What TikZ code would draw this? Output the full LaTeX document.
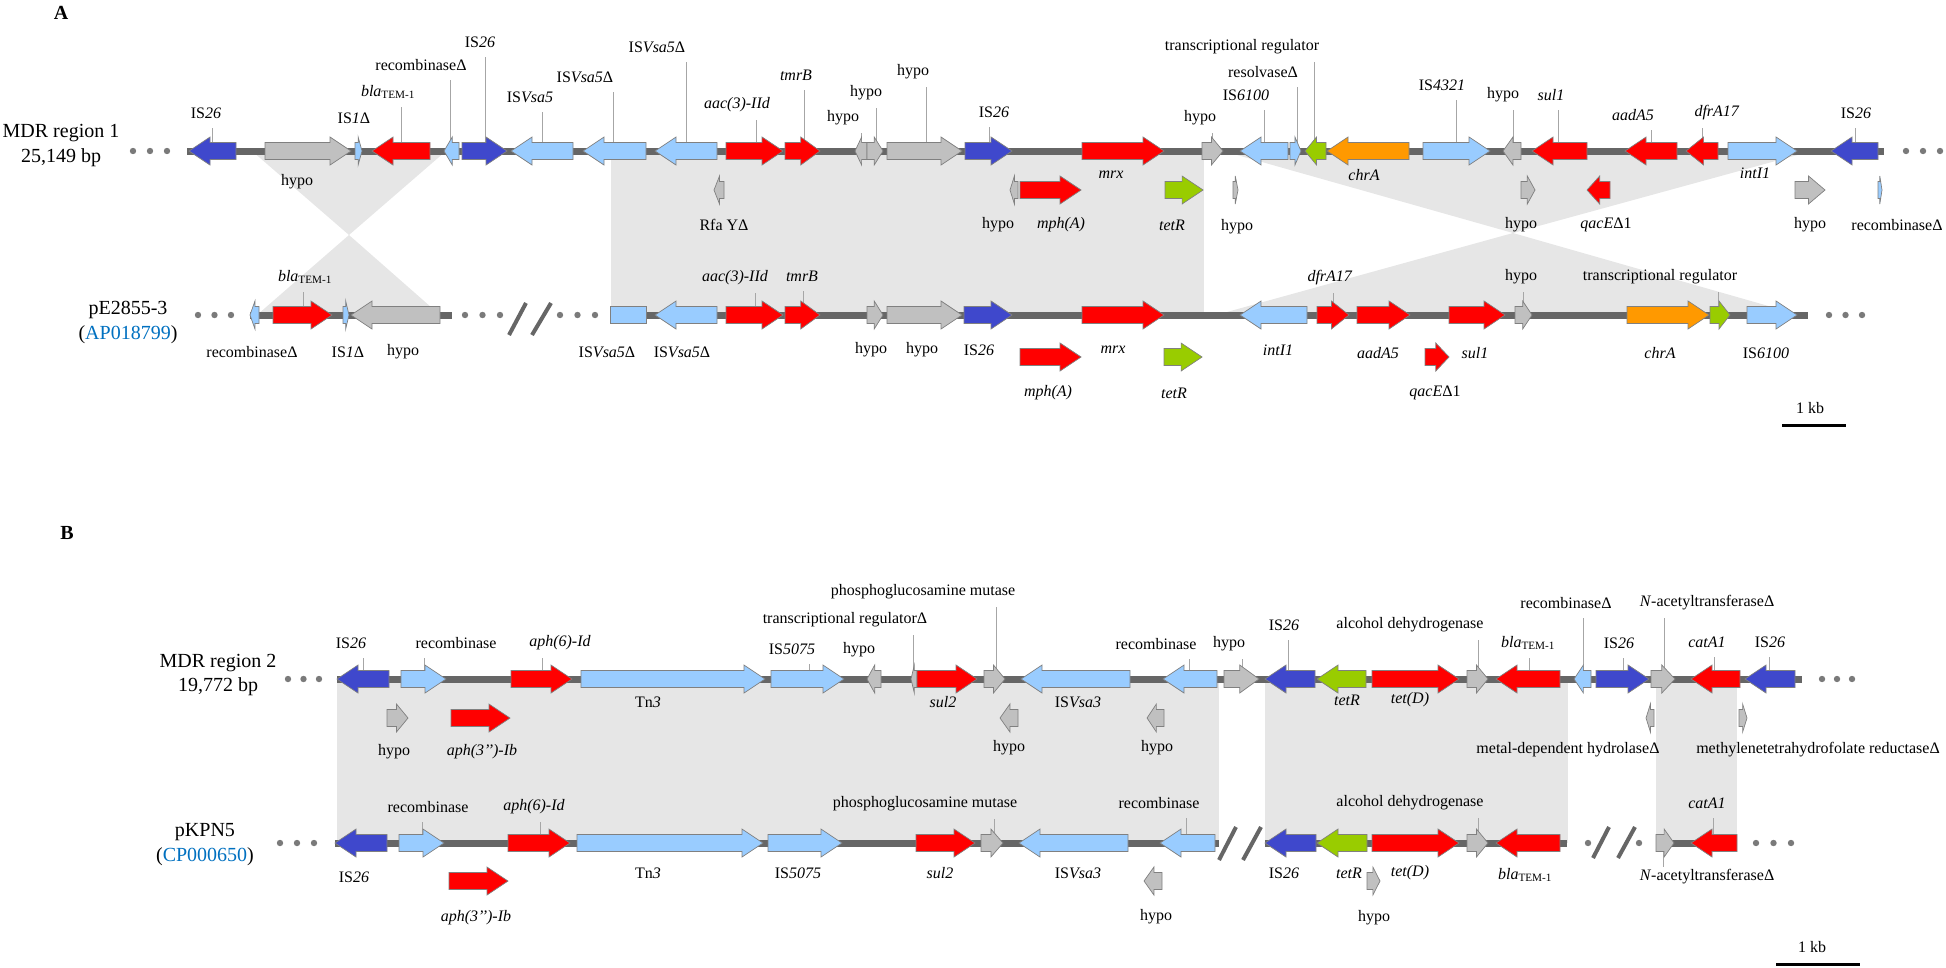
\documentclass[tikz,border=0pt]{standalone}
\usepackage{fontspec}
\setmainfont{Liberation Serif}
\definecolor{dblue}{HTML}{3F48CC}
\definecolor{lblue}{HTML}{99CCFF}
\definecolor{gred}{HTML}{FF0000}
\definecolor{ggray}{HTML}{C0C0C0}
\definecolor{ggreen}{HTML}{99CC00}
\definecolor{gorange}{HTML}{FF9900}
\definecolor{bbcol}{HTML}{666666}
\definecolor{shadec}{HTML}{E6E6E6}
\definecolor{acc}{HTML}{0070C0}
\definecolor{dotc}{HTML}{7A7A7A}
\tikzset{
 gene/.style={draw=black!50, line width=0.7pt, line join=miter},
 lab/.style={font=\fontsize{16}{18}\selectfont, inner sep=0pt},
 big/.style={font=\fontsize{20}{23}\selectfont, inner sep=0pt},
 ttl/.style={font=\fontsize{20}{23}\selectfont\bfseries, inner sep=0pt},
 tick/.style={draw=black!35, line width=0.9pt},
 slash/.style={draw=bbcol, line width=4pt},
 scalebar/.style={draw=black, line width=3pt},
}
\newcounter{ln}
\newcommand\geneR[4]{%
 \pgfmathsetmacro\ghl{min(21,0.55*((#2)-(#1)))}%
 \pgfmathsetmacro\ghx{(#2)-\ghl}%
 \filldraw[gene,fill=#4] (#1,#3-8.5) -- (\ghx,#3-8.5) -- (\ghx,#3-14) -- (#2,#3) -- (\ghx,#3+14) -- (\ghx,#3+8.5) -- (#1,#3+8.5) -- cycle;}
\newcommand\geneL[4]{%
 \pgfmathsetmacro\ghl{min(21,0.55*((#2)-(#1)))}%
 \pgfmathsetmacro\ghx{(#1)+\ghl}%
 \filldraw[gene,fill=#4] (#2,#3-8.5) -- (\ghx,#3-8.5) -- (\ghx,#3-14) -- (#1,#3) -- (\ghx,#3+14) -- (\ghx,#3+8.5) -- (#2,#3+8.5) -- cycle;}
\newcommand\geneB[4]{\filldraw[gene,fill=#4] (#1,#3-8.5) rectangle (#2,#3+8.5);}
\newcommand\bbone[3]{\fill[bbcol] (#1,#3-3.5) rectangle (#2,#3+3.5);}
\newcommand\lbl[3]{\stepcounter{ln}\node[lab] (n\arabic{ln}) at (#1,#2) {#3};}
\newcommand\lblt[5]{\lbl{#1}{#2}{#3}\draw[tick] (#4,#2+15) -- (#4,#5);}
\newcommand\gdots[3]{\fill[dotc] (#1,#3) circle (3.2); \fill[dotc] (#2,#3) circle (3.2); \pgfmathsetmacro\gmid{((#1)+(#2))/2}\fill[dotc] (\gmid,#3) circle (3.2);}
\newcommand\gbla{\textit{bla}\textsubscript{TEM-1}}
\begin{document}
\begin{tikzpicture}[x=1pt,y=-1pt]
\useasboundingbox (0,0) rectangle (1946,967);
% ---------- shading ----------
\fill[shadec] (611,151) rectangle (1204,315);
\fill[shadec] (252,151) -- (446,151) -- (349,235) -- cycle;
\fill[shadec] (349,235) -- (257,315) -- (440,315) -- cycle;
\fill[shadec] (1223,151) -- (1812,151) -- (1513,233) -- cycle;
\fill[shadec] (1513,233) -- (1216,315) -- (1800,315) -- cycle;
\fill[shadec] (337,679) rectangle (1219,843);
\fill[shadec] (1265,679) rectangle (1568,843);
\fill[shadec] (1656,679) rectangle (1737,843);
% ---------- titles ----------
\node[ttl] (tA) at (61,13) {A};
\node[ttl] (tB) at (67,533) {B};
\node[big] (r1a) at (61,133) {MDR region 1};
\node[big] (r1b) at (61,158) {25,149 bp};
\node[big] (r2a) at (128,310) {pE2855-3};
\node[big] (r2b) at (128,335) {(\textcolor{acc}{AP018799})};
\node[big] (r3a) at (218,663) {MDR region 2};
\node[big] (r3b) at (218,687) {19,772 bp};
\node[big] (r4a) at (205,832) {pKPN5};
\node[big] (r4b) at (205,857) {(\textcolor{acc}{CP000650})};
% ---------- A top labels ----------
\lblt{206}{113}{IS\textit{26}}{212}{151}
\lbl{354}{118}{IS\textit{1}Δ}
\lblt{388}{92}{\gbla}{401}{151}
\lblt{421}{65}{recombinaseΔ}{450}{151}
\lblt{480}{42}{IS\textit{26}}{485}{151}
\lblt{530}{97}{IS\textit{Vsa5}}{542}{151}
\lblt{585}{77}{IS\textit{Vsa5}Δ}{613}{151}
\lblt{657}{47}{IS\textit{Vsa5}Δ}{686}{151}
\lblt{737}{105}{\textit{aac(3)-IId}}{756}{151}
\lblt{796}{75}{\textit{tmrB}}{804}{151}
\lblt{843}{118}{hypo}{861}{151}
\lblt{866}{93}{hypo}{876}{151}
\lblt{913}{72}{hypo}{926}{151}
\lblt{994}{112}{IS\textit{26}}{989}{151}
\lblt{1200}{118}{hypo}{1212}{151}
\lblt{1246}{95}{IS\textit{6100}}{1264}{151}
\lblt{1263}{72}{resolvaseΔ}{1297}{151}
\lblt{1242}{47}{transcriptional regulator}{1314}{151}
\lblt{1442}{85}{IS\textit{4321}}{1456}{151}
\lblt{1503}{95}{hypo}{1513}{151}
\lblt{1551}{95}{\textit{sul1}}{1558}{151}
\lblt{1633}{115}{\textit{aadA5}}{1651}{151}
\lblt{1717}{113}{\textit{dfrA17}}{1702}{151}
\lblt{1856}{113}{IS\textit{26}}{1855}{151}
\lbl{297}{182}{hypo}
\lbl{1111}{175}{\textit{mrx}}
\lbl{1364}{175}{\textit{chrA}}
\lbl{1755}{173}{\textit{intI1}}
\lbl{724}{225}{Rfa YΔ}
\lbl{998}{225}{hypo}
\lbl{1061}{225}{\textit{mph(A)}}
\lbl{1172}{225}{\textit{tetR}}
\lbl{1237}{227}{hypo}
\lbl{1521}{225}{hypo}
\lbl{1606}{225}{\textit{qacE}Δ1}
\lbl{1810}{225}{hypo}
\lbl{1897}{225}{recombinaseΔ}
% ---------- A bottom labels ----------
\lblt{305}{277}{\gbla}{303}{315}
\lbl{252}{352}{recombinaseΔ}
\lbl{348}{352}{IS\textit{1}Δ}
\lbl{403}{352}{hypo}
\lbl{607}{352}{IS\textit{Vsa5}Δ}
\lbl{682}{352}{IS\textit{Vsa5}Δ}
\lblt{735}{278}{\textit{aac(3)-IId}}{755}{315}
\lblt{802}{276}{\textit{tmrB}}{803}{315}
\lbl{871}{350}{hypo}
\lbl{922}{350}{hypo}
\lbl{979}{350}{IS\textit{26}}
\lbl{1113}{350}{\textit{mrx}}
\lbl{1278}{350}{\textit{intI1}}
\lbl{1048}{393}{\textit{mph(A)}}
\lbl{1174}{393}{\textit{tetR}}
\lblt{1330}{278}{\textit{dfrA17}}{1333}{315}
\lbl{1378}{353}{\textit{aadA5}}
\lbl{1475}{353}{\textit{sul1}}
\lblt{1521}{277}{hypo}{1523}{315}
\lbl{1660}{353}{\textit{chrA}}
\lblt{1660}{277}{transcriptional regulator}{1718}{315}
\lbl{1766}{353}{IS\textit{6100}}
\lbl{1435}{393}{\textit{qacE}Δ1}
\lbl{1810}{408}{1 kb}
\draw[scalebar] (1782,425) -- (1846,425);
% ---------- B top labels ----------
\lblt{351}{643}{IS\textit{26}}{363}{679}
\lblt{456}{643}{recombinase}{424}{679}
\lblt{560}{643}{\textit{aph(6)-Id}}{542}{679}
\lbl{648}{702}{Tn\textit{3}}
\lblt{792}{649}{IS\textit{5075}}{809}{679}
\lbl{859}{650}{hypo}
\lblt{845}{620}{transcriptional regulatorΔ}{913}{679}
\lbl{943}{702}{\textit{sul2}}
\lblt{923}{592}{phosphoglucosamine mutase}{996}{679}
\lbl{1078}{702}{IS\textit{Vsa3}}
\lblt{1156}{644}{recombinase}{1189}{679}
\lblt{1229}{644}{hypo}{1242}{679}
\lblt{1284}{625}{IS\textit{26}}{1288}{679}
\lblt{1410}{625}{alcohol dehydrogenase}{1478}{679}
\lbl{1347}{700}{\textit{tetR}}
\lbl{1410}{700}{\textit{tet(D)}}
\lblt{1528}{643}{\gbla}{1529}{679}
\lblt{1566}{603}{recombinaseΔ}{1583}{679}
\lblt{1619}{643}{IS\textit{26}}{1623}{679}
\lblt{1707}{603}{\textit{N}-acetyltransferaseΔ}{1664}{679}
\lblt{1707}{642}{\textit{catA1}}{1714}{679}
\lblt{1770}{642}{IS\textit{26}}{1769}{679}
\lbl{394}{752}{hypo}
\lbl{482}{752}{\textit{aph(3’’)-Ib}}
\lbl{1009}{748}{hypo}
\lbl{1157}{748}{hypo}
\lbl{1568}{750}{metal-dependent hydrolaseΔ}
\lbl{1818}{750}{methylenetetrahydrofolate reductaseΔ}
% ---------- B bottom labels ----------
\lbl{354}{877}{IS\textit{26}}
\lblt{428}{807}{recombinase}{422}{843}
\lblt{534}{807}{\textit{aph(6)-Id}}{540}{843}
\lbl{648}{873}{Tn\textit{3}}
\lbl{798}{873}{IS\textit{5075}}
\lbl{940}{873}{\textit{sul2}}
\lblt{925}{804}{phosphoglucosamine mutase}{994}{843}
\lbl{1078}{873}{IS\textit{Vsa3}}
\lblt{1159}{803}{recombinase}{1186}{843}
\lbl{1284}{873}{IS\textit{26}}
\lbl{1349}{873}{\textit{tetR}}
\lbl{1410}{873}{\textit{tet(D)}}
\lblt{1410}{803}{alcohol dehydrogenase}{1478}{843}
\lbl{1525}{875}{\gbla}
\lbl{1707}{877}{\textit{N}-acetyltransferaseΔ}
\draw[tick] (1663,843) -- (1663,867);
\lblt{1707}{803}{\textit{catA1}}{1713}{843}
\lbl{476}{918}{\textit{aph(3’’)-Ib}}
\lbl{1156}{917}{hypo}
\lbl{1374}{918}{hypo}
\lbl{1812}{947}{1 kb}
\draw[scalebar] (1776,964) -- (1860,964);
% ---------- backbones ----------
\bbone{187}{1884}{151}
\bbone{250}{452}{315}
\bbone{610}{1808}{315}
\bbone{337}{1802}{679}
\bbone{335}{1219}{843}
\bbone{1265}{1567}{843}
\bbone{1656}{1737}{843}
% dots
\gdots{133}{167}{151}
\gdots{1906}{1940}{151}
\gdots{198}{231}{315}
\gdots{465}{500}{315}
\gdots{560}{595}{315}
\gdots{1829}{1862}{315}
\gdots{288}{319}{679}
\gdots{1822}{1852}{679}
\gdots{280}{314}{843}
\gdots{1756}{1791}{843}
\fill[dotc] (1588,843) circle (3.2);
\fill[dotc] (1639,843) circle (3.2);
% slashes
\draw[slash] (509,335) -- (526,303);
\draw[slash] (532,335) -- (551,303);
\draw[slash] (1219,860) -- (1236,827);
\draw[slash] (1243,860) -- (1261,827);
\draw[slash] (1593,858) -- (1609,827);
\draw[slash] (1618,858) -- (1635,827);
% ---------- A top genes ----------
\geneL{189}{236}{151}{dblue}
\geneR{265}{351}{151}{ggray}
\geneR{355}{362}{151}{lblue}
\geneL{372}{430}{151}{gred}
\geneL{444}{459}{151}{lblue}
\geneR{462}{507}{151}{dblue}
\geneL{511}{573}{151}{lblue}
\geneL{583}{646}{151}{lblue}
\geneL{655}{717}{151}{lblue}
\geneR{726}{783}{151}{gred}
\geneR{785}{820}{151}{gred}
\geneL{855}{867}{151}{ggray}
\geneR{867}{883}{151}{ggray}
\geneR{887}{962}{151}{ggray}
\geneR{965}{1012}{151}{dblue}
\geneR{1082}{1164}{151}{gred}
\geneR{1202}{1223}{151}{ggray}
\geneL{1240}{1288}{151}{lblue}
\geneR{1290}{1301}{151}{lblue}
\geneL{1305}{1326}{151}{ggreen}
\geneL{1327}{1409}{151}{gorange}
\geneR{1423}{1490}{151}{lblue}
\geneL{1503}{1521}{151}{ggray}
\geneL{1532}{1587}{151}{gred}
\geneL{1625}{1677}{151}{gred}
\geneL{1686}{1718}{151}{gred}
\geneR{1728}{1797}{151}{lblue}
\geneL{1831}{1878}{151}{dblue}
% A top second lane
\geneL{714}{724}{190}{ggray}
\geneL{1010}{1018}{190}{ggray}
\geneR{1020}{1081}{190}{gred}
\geneR{1165}{1203}{190}{ggreen}
\geneR{1233}{1238}{190}{ggray}
\geneR{1521}{1535}{190}{ggray}
\geneL{1587}{1610}{190}{gred}
\geneR{1795}{1825}{190}{ggray}
\geneR{1878}{1882}{190}{lblue}
% ---------- A bottom genes ----------
\geneL{250}{259}{315}{lblue}
\geneR{273}{332}{315}{gred}
\geneR{343}{349}{315}{lblue}
\geneL{351}{440}{315}{ggray}
\geneB{610}{646}{315}{lblue}
\geneL{655}{717}{315}{lblue}
\geneR{726}{783}{315}{gred}
\geneR{785}{820}{315}{gred}
\geneR{867}{883}{315}{ggray}
\geneR{887}{962}{315}{ggray}
\geneR{964}{1012}{315}{dblue}
\geneR{1082}{1164}{315}{gred}
\geneL{1240}{1307}{315}{lblue}
\geneR{1317}{1349}{315}{gred}
\geneR{1357}{1410}{315}{gred}
\geneR{1449}{1505}{315}{gred}
\geneR{1515}{1532}{315}{ggray}
\geneR{1627}{1709}{315}{gorange}
\geneR{1710}{1730}{315}{ggreen}
\geneR{1747}{1797}{315}{lblue}
\geneR{1020}{1081}{357}{gred}
\geneR{1164}{1202}{357}{ggreen}
\geneR{1425}{1449}{357}{gred}
% ---------- B top genes ----------
\geneL{337}{389}{679}{dblue}
\geneR{401}{446}{679}{lblue}
\geneR{511}{572}{679}{gred}
\geneR{581}{765}{679}{lblue}
\geneR{771}{844}{679}{lblue}
\geneL{867}{881}{679}{ggray}
\geneL{911}{917}{679}{ggray}
\geneR{917}{977}{679}{gred}
\geneR{984}{1005}{679}{ggray}
\geneL{1021}{1130}{679}{lblue}
\geneL{1163}{1217}{679}{lblue}
\geneR{1224}{1259}{679}{ggray}
\geneL{1265}{1315}{679}{dblue}
\geneL{1317}{1366}{679}{ggreen}
\geneR{1372}{1459}{679}{gred}
\geneR{1467}{1488}{679}{ggray}
\geneL{1496}{1560}{679}{gred}
\geneL{1574}{1591}{679}{lblue}
\geneR{1596}{1649}{679}{dblue}
\geneR{1651}{1675}{679}{ggray}
\geneL{1691}{1740}{679}{gred}
\geneL{1745}{1795}{679}{dblue}
\geneR{387}{408}{718}{ggray}
\geneR{451}{510}{718}{gred}
\geneL{1000}{1018}{718}{ggray}
\geneL{1147}{1164}{718}{ggray}
\geneL{1646}{1654}{718}{ggray}
\geneR{1739}{1747}{718}{ggray}
% ---------- B bottom genes ----------
\geneL{335}{387}{843}{dblue}
\geneR{399}{444}{843}{lblue}
\geneR{508}{570}{843}{gred}
\geneR{577}{763}{843}{lblue}
\geneR{768}{842}{843}{lblue}
\geneR{916}{975}{843}{gred}
\geneR{981}{1003}{843}{ggray}
\geneL{1019}{1128}{843}{lblue}
\geneL{1160}{1215}{843}{lblue}
\geneL{1265}{1316}{843}{dblue}
\geneL{1317}{1367}{843}{ggreen}
\geneR{1372}{1459}{843}{gred}
\geneR{1467}{1488}{843}{ggray}
\geneL{1496}{1560}{843}{gred}
\geneR{1656}{1674}{843}{ggray}
\geneL{1691}{1737}{843}{gred}
\geneR{449}{508}{881}{gred}
\geneL{1144}{1162}{881}{ggray}
\geneR{1367}{1380}{881}{ggray}
\end{tikzpicture}
\end{document}
